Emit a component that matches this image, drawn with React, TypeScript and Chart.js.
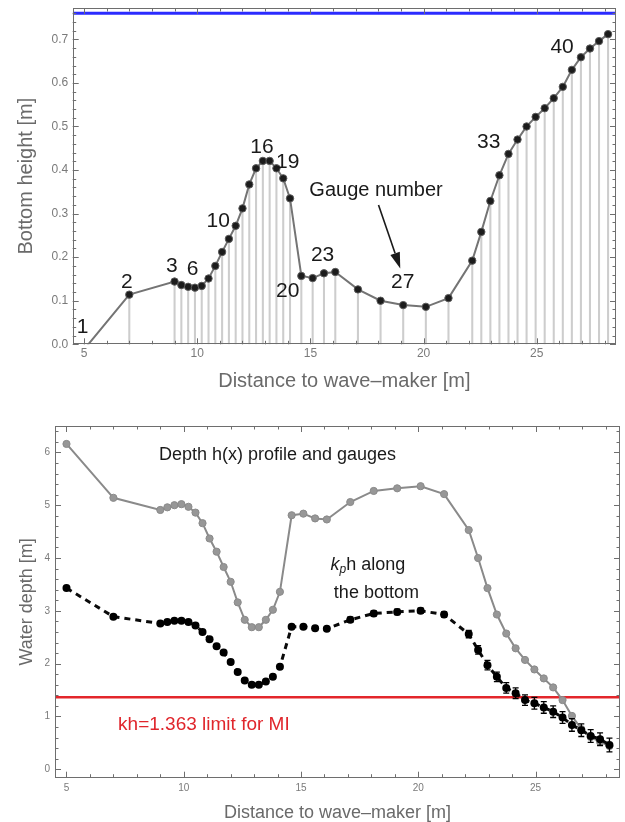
import React, { useEffect, useRef } from 'react';
import { Chart, registerables } from 'chart.js';

Chart.register(...registerables);

const FONT = "'Liberation Sans', Arial, Helvetica, sans-serif";

// ---------------- data: top panel (bottom profile) ----------------
const gaugeX = [5, 7, 9, 9.3, 9.6, 9.9, 10.2, 10.5, 10.8, 11.1, 11.4, 11.7, 12.0, 12.3, 12.6, 12.9, 13.2, 13.5, 13.8, 14.1, 14.6, 15.1, 15.6, 16.1, 17.1, 18.1, 19.1, 20.1, 21.1, 22.15, 22.55, 22.95, 23.35, 23.75, 24.15, 24.55, 24.95, 25.35, 25.75, 26.15, 26.55, 26.95, 27.35, 27.75, 28.15];
const bottomHeight = [-0.012, 0.114, 0.144, 0.136, 0.132, 0.130, 0.134, 0.151, 0.180, 0.212, 0.242, 0.272, 0.312, 0.367, 0.404, 0.421, 0.421, 0.404, 0.381, 0.335, 0.157, 0.152, 0.163, 0.166, 0.126, 0.100, 0.090, 0.086, 0.106, 0.192, 0.258, 0.329, 0.388, 0.437, 0.470, 0.500, 0.522, 0.542, 0.565, 0.591, 0.630, 0.659, 0.679, 0.696, 0.712];
const waterLevel = 0.76;
const topXRange = [4.5, 28.5];
const topYRange = [0, 0.772];

const gaugeLabelText = ['1', '2', '3', '6', '10', '16', '19', '20', '23', '27', '33', '40'];
const gaugeLabelX = [4.94, 6.89, 8.88, 9.80, 10.93, 12.86, 14.0, 14.0, 15.54, 19.08, 22.88, 26.12];
const gaugeLabelY = [0.040, 0.143, 0.180, 0.173, 0.283, 0.453, 0.419, 0.121, 0.204, 0.143, 0.463, 0.681];
const gaugeNote = 'Gauge number';
const gaugeNotePos = [17.9, 0.354];
const arrowFrom = [18.01, 0.320];
const arrowTo = [18.97, 0.174];

// ---------------- data: bottom panel (depth and kp*h) ----------------
const waterDepth = [6.16, 5.14, 4.91, 4.96, 5.00, 5.02, 4.97, 4.86, 4.66, 4.37, 4.12, 3.83, 3.55, 3.16, 2.83, 2.69, 2.69, 2.83, 3.02, 3.36, 4.81, 4.84, 4.75, 4.73, 5.06, 5.27, 5.32, 5.36, 5.21, 4.53, 4.00, 3.43, 2.93, 2.57, 2.29, 2.07, 1.89, 1.72, 1.55, 1.31, 1.01, 0.76, 0.61, 0.52, 0.44];
const kphDepth = [3.43, 2.89, 2.76, 2.79, 2.81, 2.81, 2.79, 2.72, 2.60, 2.46, 2.33, 2.21, 2.03, 1.84, 1.68, 1.60, 1.60, 1.66, 1.75, 1.94, 2.70, 2.70, 2.67, 2.66, 2.83, 2.95, 2.98, 3.00, 2.93, 2.56, 2.26, 1.97, 1.75, 1.54, 1.44, 1.31, 1.25, 1.17, 1.09, 0.98, 0.84, 0.74, 0.63, 0.57, 0.46];
const kphError = [0.03, 0.03, 0.03, 0.03, 0.03, 0.03, 0.03, 0.03, 0.03, 0.03, 0.03, 0.03, 0.03, 0.03, 0.03, 0.03, 0.03, 0.03, 0.03, 0.03, 0.03, 0.03, 0.03, 0.03, 0.05, 0.05, 0.05, 0.05, 0.05, 0.07, 0.08, 0.09, 0.09, 0.10, 0.10, 0.10, 0.11, 0.11, 0.11, 0.11, 0.12, 0.12, 0.12, 0.12, 0.13];
const miLimit = 1.363;
const botXRange = [4.51, 28.6];
const botYRange = [-0.16, 6.5];

// ---------------- plugins ----------------
function makeFramePlugin(xMinor: number, yMinor: number) {
  return {
    id: 'frameTicks',
    afterDraw(chart: any) {
      const { ctx, chartArea: a } = chart;
      const xs = chart.scales.x;
      const ys = chart.scales.y;
      ctx.save();
      ctx.strokeStyle = '#6e6e6e';
      ctx.lineWidth = 1;
      ctx.strokeRect(Math.round(a.left) + 0.5, Math.round(a.top) + 0.5, Math.round(a.right - a.left) - 1, Math.round(a.bottom - a.top) - 1);
      ctx.beginPath();
      const majorX = xs.ticks.map((t: any) => t.value);
      const majorY = ys.ticks.map((t: any) => t.value);
      const isMajor = (v: number, arr: number[], step: number) => arr.some((m) => Math.abs(m - v) < step * 0.01);
      const n0 = Math.ceil(xs.min / xMinor - 1e-6);
      for (let i = n0; i * xMinor <= xs.max + 1e-9; i++) {
        const v = i * xMinor;
        const len = isMajor(v, majorX, xMinor) ? 6 : 3.5;
        const p = Math.round(xs.getPixelForValue(v)) + 0.5;
        ctx.moveTo(p, a.bottom); ctx.lineTo(p, a.bottom - len);
        ctx.moveTo(p, a.top); ctx.lineTo(p, a.top + len);
      }
      const m0 = Math.ceil(ys.min / yMinor - 1e-6);
      for (let i = m0; i * yMinor <= ys.max + 1e-9; i++) {
        const v = i * yMinor;
        const len = isMajor(v, majorY, yMinor) ? 6 : 3.5;
        const p = Math.round(ys.getPixelForValue(v)) + 0.5;
        ctx.moveTo(a.left, p); ctx.lineTo(a.left + len, p);
        ctx.moveTo(a.right, p); ctx.lineTo(a.right - len, p);
      }
      ctx.stroke();
      ctx.restore();
    },
  };
}

type Note = { text?: string; parts?: { text: string; font: string; dy?: number }[]; x: number; y: number; font?: string; color: string; align?: CanvasTextAlign };
type Arrow = { from: number[]; to: number[]; color: string };

function makeNotesPlugin(notes: Note[], arrows: Arrow[]) {
  return {
    id: 'notes',
    afterDatasetsDraw(chart: any) {
      const { ctx } = chart;
      const xs = chart.scales.x;
      const ys = chart.scales.y;
      ctx.save();
      ctx.textBaseline = 'middle';
      for (const n of notes) {
        const px = xs.getPixelForValue(n.x);
        const py = ys.getPixelForValue(n.y);
        ctx.fillStyle = n.color;
        if (n.parts) {
          let cx = px;
          ctx.textAlign = 'left';
          for (const part of n.parts) {
            ctx.font = part.font;
            ctx.fillText(part.text, cx, py + (part.dy || 0));
            cx += ctx.measureText(part.text).width;
          }
        } else {
          ctx.font = n.font;
          ctx.textAlign = n.align || 'center';
          ctx.fillText(n.text, px, py);
        }
      }
      for (const ar of arrows) {
        const x1 = xs.getPixelForValue(ar.from[0]);
        const y1 = ys.getPixelForValue(ar.from[1]);
        const x2 = xs.getPixelForValue(ar.to[0]);
        const y2 = ys.getPixelForValue(ar.to[1]);
        const ang = Math.atan2(y2 - y1, x2 - x1);
        const hl = 16, hw = 5;
        const bx = x2 - hl * Math.cos(ang);
        const by = y2 - hl * Math.sin(ang);
        ctx.strokeStyle = ar.color;
        ctx.fillStyle = ar.color;
        ctx.lineWidth = 1.6;
        ctx.beginPath();
        ctx.moveTo(x1, y1);
        ctx.lineTo(bx, by);
        ctx.stroke();
        ctx.beginPath();
        ctx.moveTo(x2, y2);
        ctx.lineTo(bx + hw * Math.sin(ang), by - hw * Math.cos(ang));
        ctx.lineTo(bx - hw * Math.sin(ang), by + hw * Math.cos(ang));
        ctx.closePath();
        ctx.fill();
      }
      ctx.restore();
    },
  };
}

function makeErrorBarPlugin(datasetIndex: number, errors: number[]) {
  return {
    id: 'errorBars',
    afterDatasetsDraw(chart: any) {
      const { ctx } = chart;
      const ys = chart.scales.y;
      const meta = chart.getDatasetMeta(datasetIndex);
      const data = chart.data.datasets[datasetIndex].data;
      ctx.save();
      ctx.strokeStyle = '#000';
      ctx.lineWidth = 1.3;
      ctx.beginPath();
      meta.data.forEach((pt: any, i: number) => {
        const v = data[i].y;
        const e = errors[i];
        const yt = ys.getPixelForValue(v + e);
        const yb = ys.getPixelForValue(v - e);
        const x = pt.x;
        ctx.moveTo(x, yt); ctx.lineTo(x, yb);
        ctx.moveTo(x - 3, yt); ctx.lineTo(x + 3, yt);
        ctx.moveTo(x - 3, yb); ctx.lineTo(x + 3, yb);
      });
      ctx.stroke();
      ctx.restore();
    },
  };
}

const filterTicks = (scale: any) => {
  scale.ticks = scale.ticks.filter((t: any) => t.value >= scale.min - 1e-9 && t.value <= scale.max + 1e-9);
};
const zeroPad = (scale: any) => {
  scale.paddingTop = 0; scale.paddingBottom = 0; scale.paddingLeft = 0; scale.paddingRight = 0;
};

// ---------------- configs ----------------
const TICK_COLOR = '#7a7a7a';
const TITLE_COLOR = '#6a6a6a';
const TEXT_COLOR = '#1a1a1a';
const GRID_OFF = { display: false, drawTicks: false, tickLength: 0 };

function topConfig(): any {
  const pts = gaugeX.map((x, i) => ({ x, y: bottomHeight[i] }));
  const notes: Note[] = gaugeLabelText.map((t, i) => ({ text: t, x: gaugeLabelX[i], y: gaugeLabelY[i], font: `21px ${FONT}`, color: TEXT_COLOR }));
  notes.push({ text: gaugeNote, x: gaugeNotePos[0], y: gaugeNotePos[1], font: `20px ${FONT}`, color: TEXT_COLOR });
  return {
    type: 'line',
    data: {
      datasets: [
        { type: 'bar', data: pts, backgroundColor: '#cdcdcd', barThickness: 1.4, grouped: false, order: 3 },
        { type: 'line', data: [{ x: topXRange[0], y: waterLevel }, { x: topXRange[1], y: waterLevel }], borderColor: '#2b2bff', borderWidth: 3, pointRadius: 0, order: 2, clip: 0 },
        { type: 'line', data: pts, borderColor: '#747474', borderWidth: 2, pointRadius: 3.7, pointBackgroundColor: '#1c1c1c', pointBorderColor: '#5a5a5a', pointBorderWidth: 1, tension: 0, order: 1, clip: 0 },
      ],
    },
    options: {
      responsive: false,
      animation: false,
      devicePixelRatio: 1,
      layout: { padding: { left: 0, right: 9, top: 8, bottom: 0 } },
      plugins: { legend: { display: false }, tooltip: { enabled: false } },
      scales: {
        x: {
          type: 'linear', min: topXRange[0], max: topXRange[1], offset: false,
          grid: GRID_OFF, border: { display: false },
          ticks: { stepSize: 5, padding: 2, color: TICK_COLOR, font: { size: 12, family: FONT }, includeBounds: false, maxRotation: 0, autoSkip: false },
          title: { display: true, text: 'Distance to wave–maker [m]', color: TITLE_COLOR, font: { size: 20, family: FONT }, padding: { top: 0, bottom: 5 } },
          afterBuildTicks: filterTicks,
          afterFit: (s: any) => { s.height = 53.7; zeroPad(s); },
        },
        y: {
          type: 'linear', min: topYRange[0], max: topYRange[1],
          grid: GRID_OFF, border: { display: false },
          ticks: { stepSize: 0.1, padding: 4.5, color: TICK_COLOR, font: { size: 12, family: FONT }, includeBounds: false, callback: (v: number) => v.toFixed(1) },
          title: { display: true, text: 'Bottom height [m]', color: TITLE_COLOR, font: { size: 20, family: FONT }, padding: { top: 14.7, bottom: 0 } },
          afterBuildTicks: filterTicks,
          afterFit: (s: any) => { s.width = 72.7; zeroPad(s); },
        },
      },
    },
    plugins: [makeFramePlugin(1, 0.02), makeNotesPlugin(notes, [{ from: arrowFrom, to: arrowTo, color: TEXT_COLOR }])],
  };
}

function bottomConfig(): any {
  const depthPts = gaugeX.map((x, i) => ({ x, y: waterDepth[i] }));
  const kphPts = gaugeX.map((x, i) => ({ x, y: kphDepth[i] }));
  const notes: Note[] = [
    { text: 'Depth h(x) profile and gauges', x: 8.94, y: 5.95, font: `18px ${FONT}`, color: TEXT_COLOR, align: 'left' },
    { parts: [ { text: 'k', font: `italic 18px ${FONT}` }, { text: 'p', font: `italic 12px ${FONT}`, dy: 5 }, { text: 'h along', font: `18px ${FONT}` } ], x: 16.26, y: 3.87, color: TEXT_COLOR },
    { text: 'the bottom', x: 16.4, y: 3.34, font: `18px ${FONT}`, color: TEXT_COLOR, align: 'left' },
    { text: `kh=${miLimit} limit for MI`, x: 7.2, y: 0.84, font: `19px ${FONT}`, color: '#e0262c', align: 'left' },
  ];
  return {
    type: 'line',
    data: {
      datasets: [
        { type: 'line', data: [{ x: botXRange[0], y: miLimit }, { x: botXRange[1], y: miLimit }], borderColor: '#e3262b', borderWidth: 2.5, pointRadius: 0, order: 3, clip: 0 },
        { type: 'line', data: depthPts, borderColor: '#8a8a8a', borderWidth: 2, pointRadius: 3.6, pointBackgroundColor: '#979797', pointBorderColor: '#8a8a8a', pointBorderWidth: 1, tension: 0, order: 2, clip: 0 },
        { type: 'line', data: kphPts, borderColor: '#0a0a0a', borderWidth: 3, borderDash: [6, 5], pointRadius: 4, pointBackgroundColor: '#000', pointBorderColor: '#000', pointBorderWidth: 0, tension: 0, order: 1, clip: 0 },
      ],
    },
    options: {
      responsive: false,
      animation: false,
      devicePixelRatio: 1,
      layout: { padding: { left: 0, right: 2.3, top: 28, bottom: 0 } },
      plugins: { legend: { display: false }, tooltip: { enabled: false } },
      scales: {
        x: {
          type: 'linear', min: botXRange[0], max: botXRange[1], offset: false,
          grid: GRID_OFF, border: { display: false },
          ticks: { stepSize: 5, padding: 4.5, color: TICK_COLOR, font: { size: 10, family: FONT }, includeBounds: false, maxRotation: 0, autoSkip: false },
          title: { display: true, text: 'Distance to wave–maker [m]', color: TITLE_COLOR, font: { size: 18, family: FONT, lineHeight: 1 }, padding: { top: 0, bottom: 0 } },
          afterBuildTicks: filterTicks,
          afterFit: (s: any) => { s.height = 44.3; zeroPad(s); },
        },
        y: {
          type: 'linear', min: botYRange[0], max: botYRange[1],
          grid: GRID_OFF, border: { display: false },
          ticks: { stepSize: 1, padding: 5, color: TICK_COLOR, font: { size: 10, family: FONT }, includeBounds: false },
          title: { display: true, text: 'Water depth [m]', color: TITLE_COLOR, font: { size: 18, family: FONT }, padding: { top: 15.9, bottom: 0 } },
          afterBuildTicks: filterTicks,
          afterFit: (s: any) => { s.width = 55; zeroPad(s); },
        },
      },
    },
    plugins: [makeFramePlugin(1, 0.2), makeErrorBarPlugin(2, kphError), makeNotesPlugin(notes, [])],
  };
}

function ChartCanvas({ make, top, height }: { make: () => any; top: number; height: number }) {
  const ref = useRef<HTMLCanvasElement>(null);
  useEffect(() => {
    const chart = new Chart(ref.current as HTMLCanvasElement, make());
    return () => chart.destroy();
  }, []);
  return (
    <canvas
      ref={ref}
      width={625}
      height={height}
      style={{ position: 'absolute', left: 0, top, width: 625, height, display: 'block' }}
    />
  );
}

export default function App() {
  return (
    <div style={{ position: 'absolute', left: 0, top: 0, width: 625, height: 822, background: '#fff', overflow: 'hidden' }}>
      <ChartCanvas make={topConfig} top={0} height={398} />
      <ChartCanvas make={bottomConfig} top={398} height={424} />
    </div>
  );
}
